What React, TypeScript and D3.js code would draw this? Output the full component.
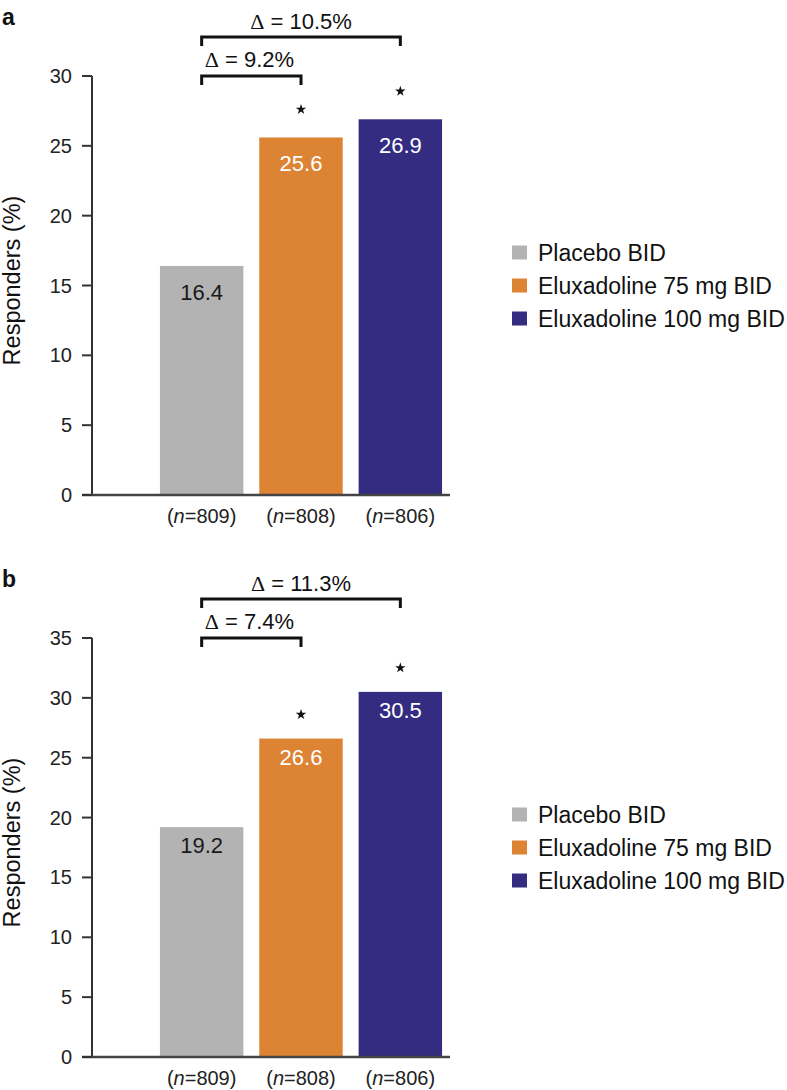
import React from 'react';
import * as d3 from 'd3';

const groups = ['Placebo BID', 'Eluxadoline 75 mg BID', 'Eluxadoline 100 mg BID'];
const nLabels = ['809', '808', '806'];
const significant = [false, true, true];
const colors = ['#b3b3b3', '#dd8334', '#332c80'];
const labelColors = ['#1a1a1a', '#ffffff', '#ffffff'];

const valuesA = [16.4, 25.6, 26.9];
const valuesB = [19.2, 26.6, 30.5];
const deltasA = ['9.2%', '10.5%'];
const deltasB = ['7.4%', '11.3%'];
const ticksA = [0, 5, 10, 15, 20, 25, 30];
const ticksB = [0, 5, 10, 15, 20, 25, 30, 35];

const FONT = '"Liberation Sans", Arial, Helvetica, sans-serif';
const INK = '#222';

type PanelProps = {
  letter: string;
  values: number[];
  deltas: string[];
  ticks: number[];
  top: number;
  bottom: number;
  labelOffset: number;
  starGap: number;
};

function Panel({ letter, values, deltas, ticks, top, bottom, labelOffset, starGap }: PanelProps) {
  const axisX = 92;
  const y = d3.scaleLinear().domain([0, d3.max(ticks) as number]).range([bottom, top]);
  const x = d3.scaleBand<string>().domain(groups).range([152, 450]).paddingInner(0.16).paddingOuter(0.08);
  const cx = (g: string) => (x(g) as number) + x.bandwidth() / 2;
  const star = d3.symbol(d3.symbolStar, 34)() as string;

  const bigY = top - 39;
  const smallY = top;
  const tick = 9;
  const c0 = cx(groups[0]);
  const c1 = cx(groups[1]);
  const c2 = cx(groups[2]);

  const midY = (top + bottom) / 2 - 5;
  const legendY = (top + bottom) / 2 - 33;

  return (
    <g fontFamily={FONT}>
      <text x={2} y={top - 51} fontSize={23} fontWeight="bold" fill="#111">{letter}</text>

      {/* y axis title */}
      <text
        transform={`translate(20, ${midY}) rotate(-90)`}
        textAnchor="middle"
        fontSize={23.5}
        fill="#111"
      >
        Responders (%)
      </text>

      {/* bars */}
      {groups.map((g, i) => (
        <g key={g}>
          <rect x={x(g)} y={y(values[i])} width={x.bandwidth()} height={bottom - y(values[i])} fill={colors[i]} />
          <text
            x={cx(g)}
            y={y(values[i]) + labelOffset}
            textAnchor="middle"
            fontSize={22}
            fill={labelColors[i]}
          >
            {values[i].toFixed(1)}
          </text>
          {significant[i] && (
            <path d={star} transform={`translate(${cx(g)}, ${y(values[i]) - starGap})`} fill="#111" />
          )}
          <text x={cx(g)} y={bottom + 28} textAnchor="middle" fontSize={20} fill={INK}>
            (<tspan fontStyle="italic">n</tspan>={nLabels[i]})
          </text>
        </g>
      ))}

      {/* axes */}
      <line x1={axisX} x2={axisX} y1={top} y2={bottom} stroke="#333" strokeWidth={2} />
      <line x1={axisX - 10} x2={450} y1={bottom} y2={bottom} stroke="#444" strokeWidth={2.5} />
      {ticks.map(t => (
        <g key={t}>
          <line x1={axisX - 10} x2={axisX} y1={y(t)} y2={y(t)} stroke="#333" strokeWidth={2} />
          <text x={72} y={y(t)} dy="0.35em" textAnchor="end" fontSize={20} fill={INK}>{t}</text>
        </g>
      ))}

      {/* comparison brackets */}
      <path
        d={`M${c0},${bigY + tick} V${bigY} H${c2} V${bigY + tick}`}
        fill="none"
        stroke="#111"
        strokeWidth={3}
      />
      <text x={(c0 + c2) / 2} y={bigY - 8} textAnchor="middle" fontSize={22} fill="#111">
        <tspan fontFamily='"Liberation Serif", serif'>Δ</tspan> = {deltas[1]}
      </text>
      <path
        d={`M${c0},${smallY + tick} V${smallY} H${c1} V${smallY + tick}`}
        fill="none"
        stroke="#111"
        strokeWidth={3}
      />
      <text x={c0 + 3} y={smallY - 9} fontSize={22} fill="#111">
        <tspan fontFamily='"Liberation Serif", serif'>Δ</tspan> = {deltas[0]}
      </text>

      {/* legend */}
      {groups.map((g, i) => (
        <g key={`lg-${g}`} transform={`translate(512, ${legendY + i * 33})`}>
          <rect x={0} y={-7} width={15} height={14} fill={colors[i]} />
          <text x={26} y={0} dy="0.35em" fontSize={23} fill="#111">{g}</text>
        </g>
      ))}
    </g>
  );
}

export default function App() {
  return (
    <svg
      width={787}
      height={1090}
      style={{ position: 'absolute', left: 0, top: 0, background: '#fff' }}
    >
      <Panel letter="a" values={valuesA} deltas={deltasA} ticks={ticksA} top={76} bottom={495} labelOffset={34} starGap={28} />
      <Panel letter="b" values={valuesB} deltas={deltasB} ticks={ticksB} top={638} bottom={1057} labelOffset={26} starGap={24} />
    </svg>
  );
}
